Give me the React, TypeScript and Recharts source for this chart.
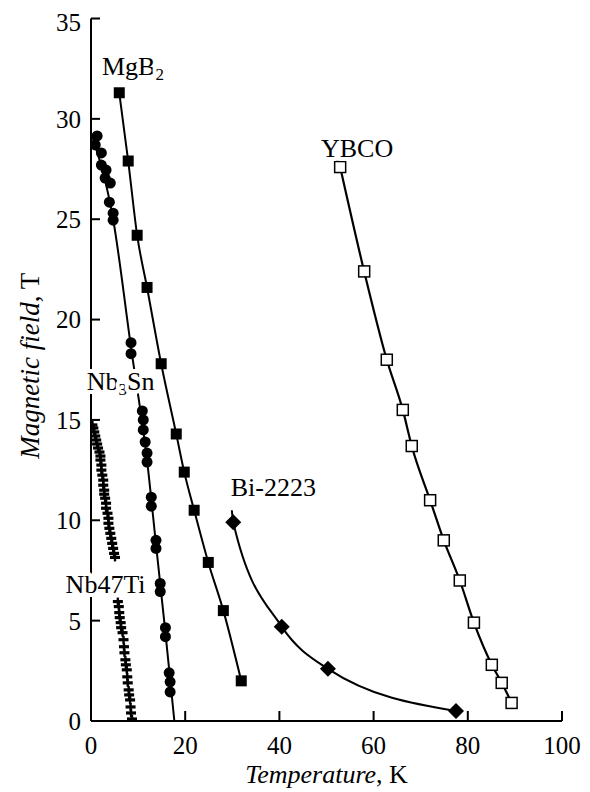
import {
  ComposedChart,
  Line,
  Scatter,
  XAxis,
  YAxis,
  ReferenceDot,
} from 'recharts';

const FONT = '"Liberation Serif", "DejaVu Serif", "Noto Serif", serif';

// upper critical field vs temperature, T in K, B in tesla
const mgb2 = [
  { x: 6.0, y: 31.3 },
  { x: 7.9, y: 27.9 },
  { x: 9.8, y: 24.2 },
  { x: 11.9, y: 21.6 },
  { x: 14.9, y: 17.8 },
  { x: 18.1, y: 14.3 },
  { x: 19.8, y: 12.4 },
  { x: 21.9, y: 10.5 },
  { x: 24.9, y: 7.9 },
  { x: 28.1, y: 5.5 },
  { x: 31.9, y: 2.0 },
];

const nb3sn = [
  { x: 1.3, y: 29.15 },
  { x: 0.9, y: 28.7 },
  { x: 2.2, y: 28.3 },
  { x: 2.2, y: 27.7 },
  { x: 3.2, y: 27.45 },
  { x: 3.0, y: 27.05 },
  { x: 4.1, y: 26.8 },
  { x: 3.9, y: 25.85 },
  { x: 4.7, y: 25.3 },
  { x: 4.7, y: 24.95 },
  { x: 8.5, y: 18.85 },
  { x: 8.5, y: 18.3 },
  { x: 10.9, y: 15.45 },
  { x: 11.1, y: 15.0 },
  { x: 11.1, y: 14.5 },
  { x: 11.5, y: 13.9 },
  { x: 11.9, y: 13.35 },
  { x: 11.9, y: 12.9 },
  { x: 12.8, y: 11.15 },
  { x: 12.8, y: 10.7 },
  { x: 13.8, y: 9.0 },
  { x: 13.8, y: 8.6 },
  { x: 14.7, y: 6.85 },
  { x: 14.7, y: 6.45 },
  { x: 15.8, y: 4.65 },
  { x: 15.8, y: 4.2 },
  { x: 16.6, y: 2.4 },
  { x: 16.8, y: 1.95 },
  { x: 16.8, y: 1.45 },
];

const nb3snFit = [
  { x: 0.3, y: 29.1 },
  { x: 4.7, y: 25.0 },
  { x: 8.5, y: 18.6 },
  { x: 11.9, y: 13.0 },
  { x: 13.8, y: 8.8 },
  { x: 15.8, y: 4.4 },
  { x: 17.7, y: 0 },
];

const nb47ti = [
  { x: 0.3, y: 14.75 },
  { x: 0.5, y: 14.6 },
  { x: 0.7, y: 14.4 },
  { x: 0.9, y: 14.2 },
  { x: 1.1, y: 14.0 },
  { x: 1.3, y: 13.8 },
  { x: 1.5, y: 13.6 },
  { x: 1.8, y: 13.4 },
  { x: 2.0, y: 13.2 },
  { x: 2.0, y: 13.0 },
  { x: 2.2, y: 12.75 },
  { x: 2.2, y: 12.5 },
  { x: 2.4, y: 12.25 },
  { x: 2.6, y: 12.0 },
  { x: 2.6, y: 11.75 },
  { x: 2.8, y: 11.5 },
  { x: 2.8, y: 11.3 },
  { x: 3.0, y: 11.1 },
  { x: 3.2, y: 10.85 },
  { x: 3.2, y: 10.6 },
  { x: 3.5, y: 10.35 },
  { x: 3.7, y: 10.1 },
  { x: 3.7, y: 9.85 },
  { x: 3.9, y: 9.6 },
  { x: 4.1, y: 9.35 },
  { x: 4.3, y: 9.1 },
  { x: 4.5, y: 8.85 },
  { x: 4.7, y: 8.6 },
  { x: 4.9, y: 8.35 },
  { x: 5.1, y: 8.15 },
  { x: 5.7, y: 5.95 },
  { x: 5.9, y: 5.7 },
  { x: 6.0, y: 5.4 },
  { x: 6.1, y: 5.15 },
  { x: 6.3, y: 4.9 },
  { x: 6.4, y: 4.65 },
  { x: 6.7, y: 4.4 },
  { x: 6.9, y: 4.05 },
  { x: 7.0, y: 3.7 },
  { x: 7.1, y: 3.4 },
  { x: 7.3, y: 3.05 },
  { x: 7.4, y: 2.8 },
  { x: 7.6, y: 2.55 },
  { x: 7.7, y: 2.2 },
  { x: 7.8, y: 1.9 },
  { x: 8.0, y: 1.55 },
  { x: 8.1, y: 1.3 },
  { x: 8.3, y: 1.05 },
  { x: 8.4, y: 0.7 },
  { x: 8.5, y: 0.4 },
  { x: 8.7, y: 0.1 },
];

const bi2223 = [
  { x: 30.2, y: 9.9 },
  { x: 40.5, y: 4.7 },
  { x: 50.3, y: 2.6 },
  { x: 77.5, y: 0.5 },
];

// the drawn curve starts a little above the first point
const bi2223Curve = [{ x: 29.9, y: 10.5 }, ...bi2223];

const ybco = [
  { x: 52.9, y: 27.6 },
  { x: 58.0, y: 22.4 },
  { x: 62.8, y: 18.0 },
  { x: 66.2, y: 15.5 },
  { x: 68.1, y: 13.7 },
  { x: 72.0, y: 11.0 },
  { x: 74.9, y: 9.0 },
  { x: 78.3, y: 7.0 },
  { x: 81.3, y: 4.9 },
  { x: 85.1, y: 2.8 },
  { x: 87.2, y: 1.9 },
  { x: 89.3, y: 0.9 },
];

// odd entries of parts are subscripts
const seriesLabels = [
  { parts: ['MgB', '2'], x: 8.9, y: 32.2 },
  { parts: ['YBCO'], x: 56.5, y: 28.1 },
  { parts: ['Nb', '3', 'Sn'], x: 6.3, y: 16.5 },
  { parts: ['Bi-2223'], x: 38.7, y: 11.2 },
  { parts: ['Nb47Ti'], x: 3.1, y: 6.4 },
];

const xTicks = [0, 20, 40, 60, 80, 100];
const yTicks = [0, 5, 10, 15, 20, 25, 30, 35];

const FilledSquare = ({ cx, cy }: any) => (
  <rect x={cx - 5.5} y={cy - 5.5} width={11} height={11} fill="#000" />
);

const OpenSquare = ({ cx, cy }: any) => (
  <rect x={cx - 5.5} y={cy - 5.5} width={11} height={11} fill="#fff" stroke="#000" strokeWidth={1.5} />
);

const Dot = ({ cx, cy }: any) => <circle cx={cx} cy={cy} r={5.5} fill="#000" />;

const Diamond = ({ cx, cy }: any) => (
  <path d={`M${cx},${cy - 8}L${cx + 8},${cy}L${cx},${cy + 8}L${cx - 8},${cy}Z`} fill="#000" />
);

const Cross = ({ cx, cy }: any) => (
  <g fill="#000">
    <rect x={cx - 5} y={cy - 1.6} width={10} height={3.2} />
    <rect x={cx - 1.2} y={cy - 4} width={2.4} height={8} />
  </g>
);

const SeriesLabel = ({ cx, cy, parts }: any) => (
  <text
    x={cx}
    y={cy}
    textAnchor="middle"
    style={{ fontFamily: FONT }}
    fontSize={26}
    fill="#000"
    stroke="#fff"
    strokeWidth={8}
    strokeLinejoin="round"
    paintOrder="stroke"
  >
    {parts.map((p: string, i: number) =>
      i % 2 ? (
        <tspan key={i} fontSize={17} dy={5}>{p}</tspan>
      ) : (
        <tspan key={i} dy={i ? -5 : 0}>{p}</tspan>
      )
    )}
  </text>
);

const YTitle = ({ viewBox }: any) => {
  const cx = viewBox.x - 1;
  const cy = viewBox.y + viewBox.height / 2 - 4;
  return (
    <text
      x={cx}
      y={cy}
      transform={`rotate(-90, ${cx}, ${cy})`}
      textAnchor="middle"
      dominantBaseline="central"
      style={{ fontFamily: FONT }}
      fontSize={27}
      fill="#000"
    >
      <tspan fontStyle="italic">Magnetic field</tspan>, T
    </text>
  );
};

const XTitle = ({ viewBox }: any) => (
  <text
    x={viewBox.x + viewBox.width / 2}
    y={viewBox.y + 62}
    textAnchor="middle"
    style={{ fontFamily: FONT }}
    fontSize={26}
    fill="#000"
  >
    <tspan fontStyle="italic">Temperature</tspan>, K
  </text>
);

const tickStyle = { fontSize: 25, fill: '#000', style: { fontFamily: FONT } };
const frame = { stroke: '#000', strokeWidth: 2 };

export default function App() {
  return (
    <div style={{ width: 582, height: 784, background: '#fff', fontFamily: FONT }}>
      <ComposedChart
        width={582}
        height={784}
        margin={{ top: 10.5, right: 28, bottom: 21, left: 23 }}
        style={{ fontFamily: FONT }}
      >
        <XAxis
          type="number"
          dataKey="x"
          domain={[0, 100]}
          ticks={xTicks}
          allowDataOverflow
          height={50}
          tickSize={-10}
          tickMargin={25}
          axisLine={frame}
          tickLine={frame}
          tick={tickStyle}
          label={<XTitle />}
        />
        <XAxis
          xAxisId="top"
          orientation="top"
          type="number"
          domain={[0, 100]}
          ticks={xTicks}
          allowDataOverflow
          height={0}
          tickSize={-10}
          axisLine={frame}
          tickLine={frame}
          tick={false}
        />
        <YAxis
          type="number"
          dataKey="y"
          domain={[0, 35]}
          ticks={yTicks}
          allowDataOverflow
          width={60}
          tickSize={-9}
          tickMargin={19}
          axisLine={frame}
          tickLine={frame}
          tick={tickStyle}
          label={<YTitle />}
        />
        <YAxis
          yAxisId="right"
          orientation="right"
          type="number"
          domain={[0, 35]}
          ticks={yTicks}
          allowDataOverflow
          width={0}
          tickSize={-9}
          axisLine={frame}
          tickLine={frame}
          tick={false}
        />

        <Line data={nb3snFit} dataKey="y" type="monotone" stroke="#000" strokeWidth={2} dot={false} isAnimationActive={false} />
        <Line data={mgb2} dataKey="y" type="monotone" stroke="#000" strokeWidth={2} dot={false} isAnimationActive={false} />
        <Line data={bi2223Curve} dataKey="y" type="monotone" stroke="#000" strokeWidth={2} dot={false} isAnimationActive={false} />
        <Line data={ybco} dataKey="y" type="monotone" stroke="#000" strokeWidth={2.2} dot={false} isAnimationActive={false} />

        <Scatter data={nb47ti} shape={<Cross />} isAnimationActive={false} />
        <Scatter data={nb3sn} shape={<Dot />} isAnimationActive={false} />
        <Scatter data={mgb2} shape={<FilledSquare />} isAnimationActive={false} />
        <Scatter data={bi2223} shape={<Diamond />} isAnimationActive={false} />
        <Scatter data={ybco} shape={<OpenSquare />} isAnimationActive={false} />

        {seriesLabels.map((l) => (
          <ReferenceDot
            key={l.parts.join('')}
            x={l.x}
            y={l.y}
            r={0}
            ifOverflow="visible"
            shape={(p: any) => <SeriesLabel {...p} parts={l.parts} />}
          />
        ))}
      </ComposedChart>
    </div>
  );
}
